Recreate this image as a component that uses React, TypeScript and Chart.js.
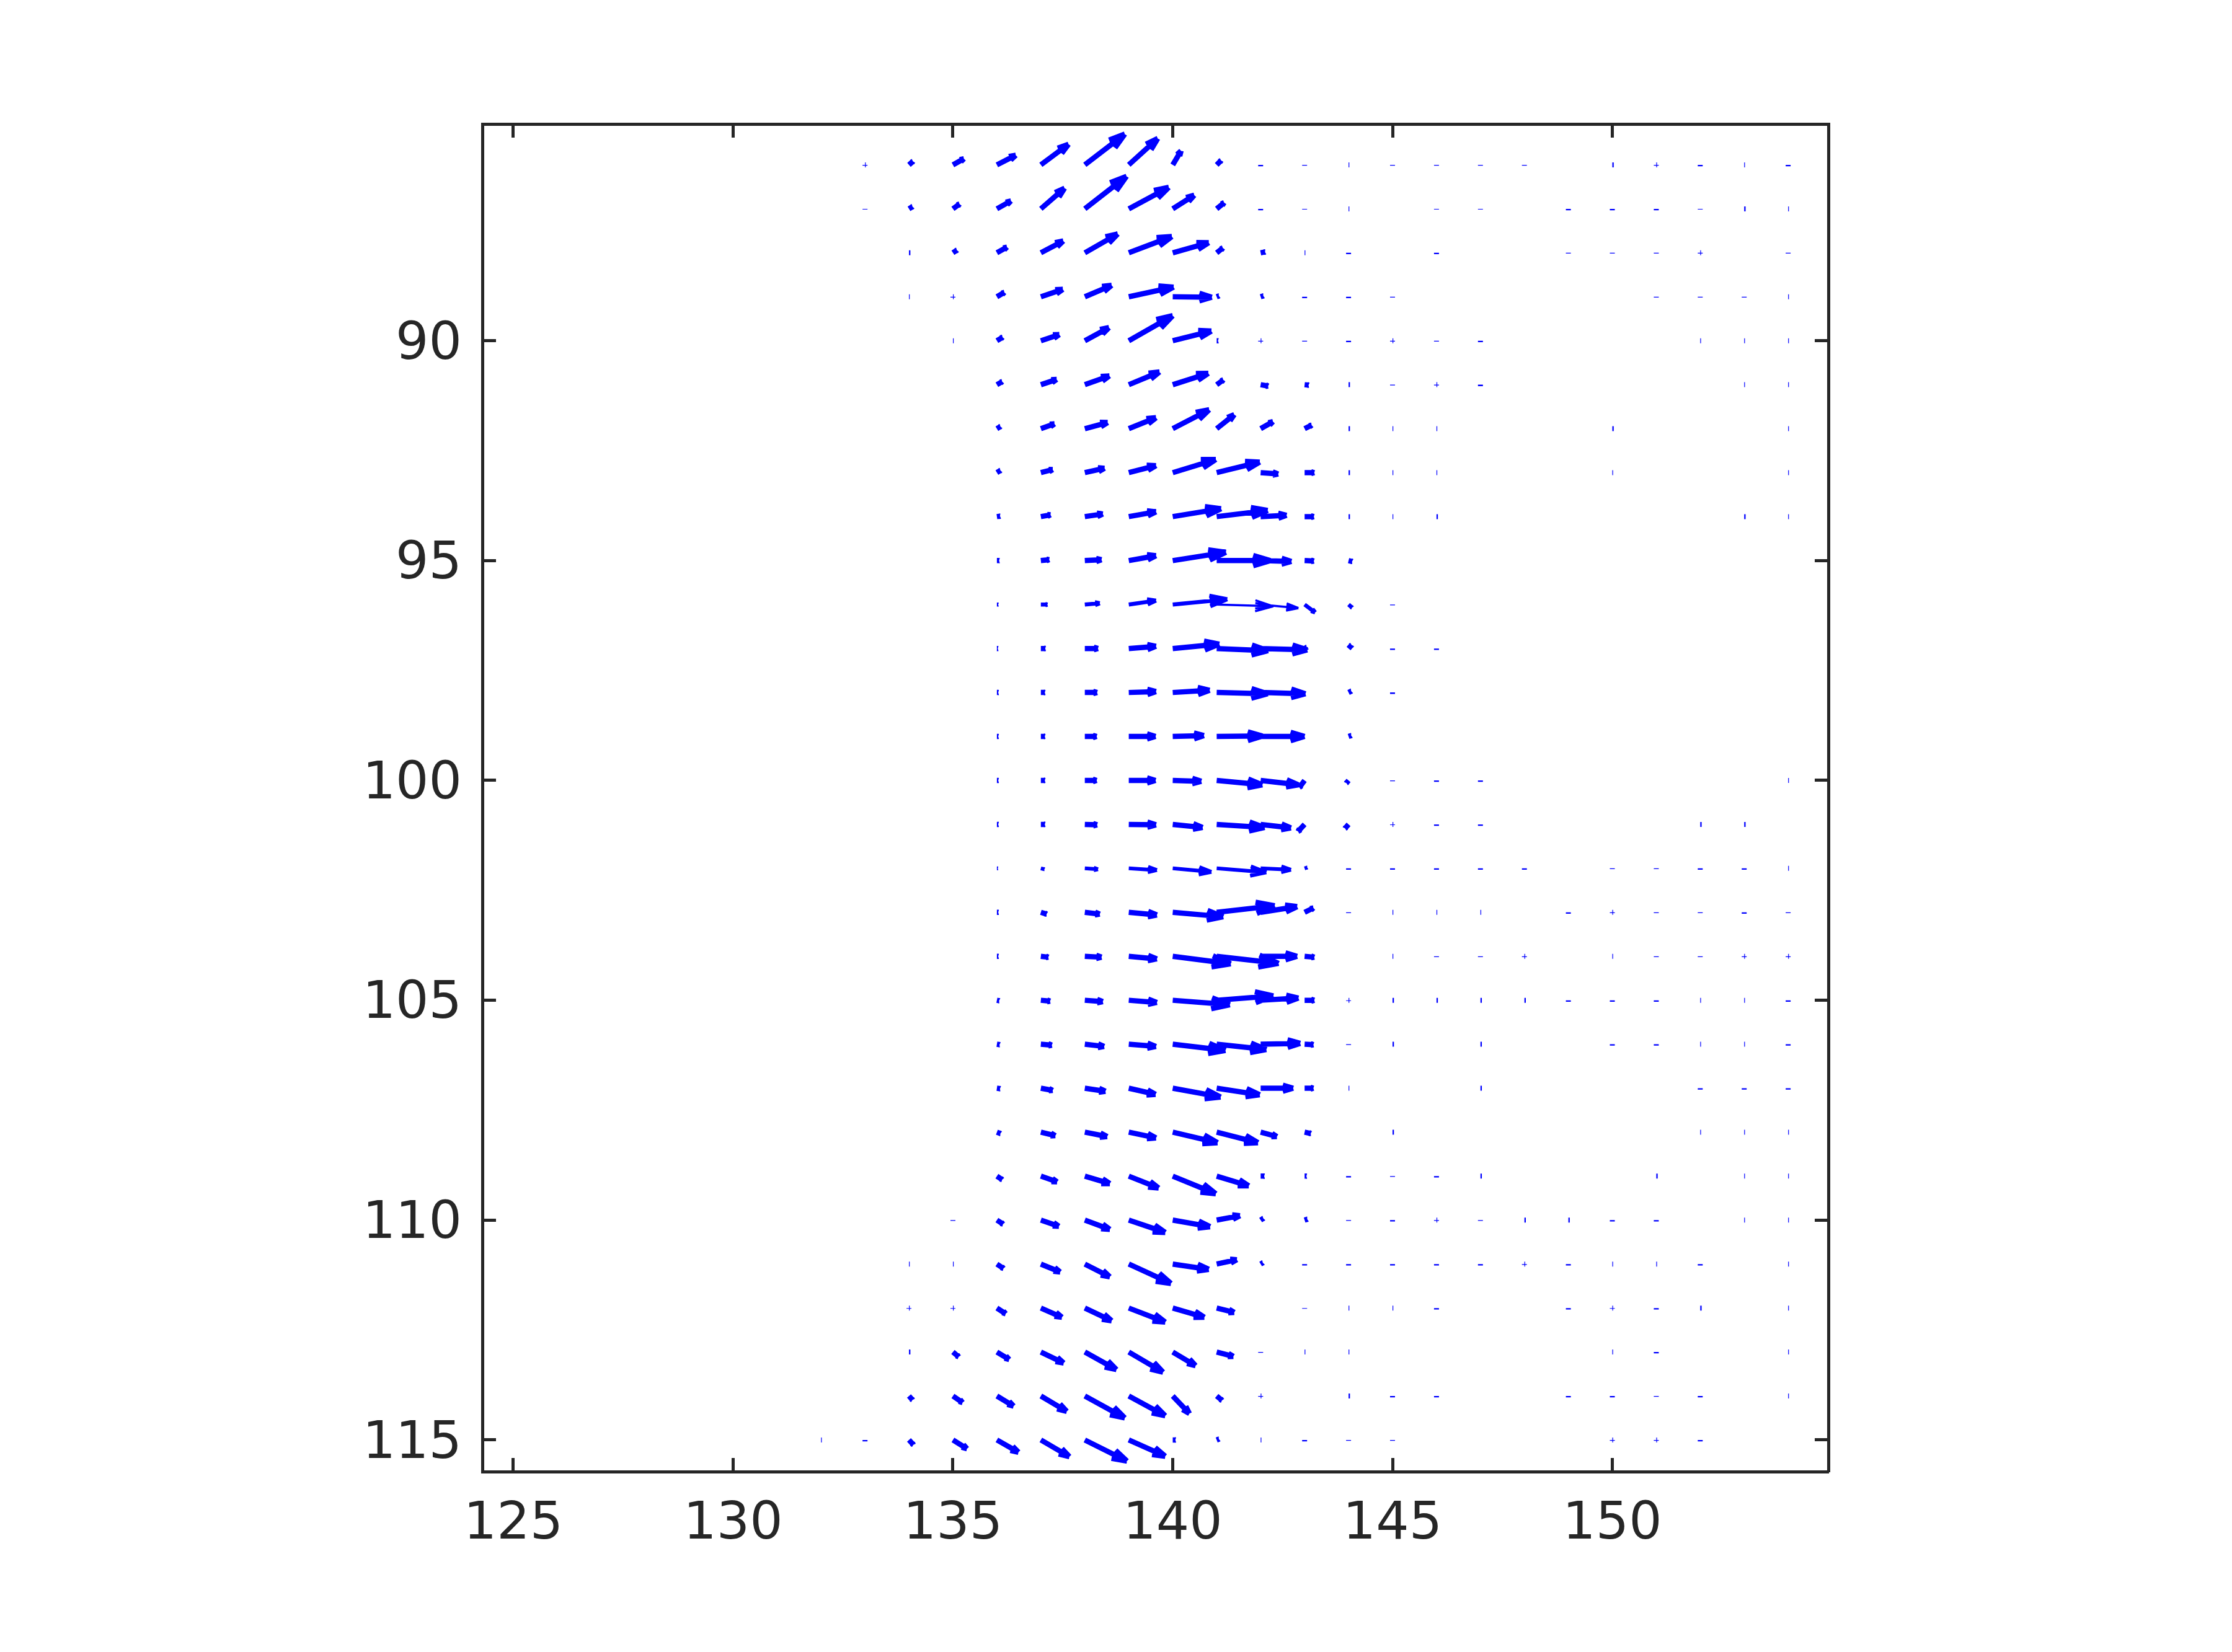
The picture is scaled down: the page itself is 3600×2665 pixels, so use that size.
import React, { useEffect, useRef } from "react";
import { Chart, registerables } from "chart.js";

Chart.register(...registerables);

const N = null;

// Longitudes of the full grid and of the columns that hold real arrows.
const minorLons = [132,133,134,135,136,137,138,139,140,141,142,143,144,145,146,147,148,149,150,151,152,153,154];
const arrowLons = [134,135,136,137,138,139,140,141,142,143,144];
const lats = [86,87,88,89,90,91,92,93,94,95,96,97,98,99,100,101,102,103,104,105,106,107,108,109,110,111,112,113,114,115];
const xTickValues = [125,130,135,140,145,150];
const yTickValues = [90,95,100,105,110,115];

// Eastward component, one row per latitude, columns = arrowLons.
const uRows = [
  [.09,.25,.43,.63,.91,.66,.19,.10,N,N,N],
  [.08,.15,.32,.54,.95,.91,.49,.17,N,N,N],
  [N,.09,.23,.51,.75,.98,.82,.14,.10,N,N],
  [N,N,.17,.50,.61,1.02,.89,.05,.06,N,N],
  [N,N,.13,.42,.55,1.0,.88,.03,N,N,N],
  [N,N,.12,.36,.56,.70,.81,.15,.17,.09,N],
  [N,N,.08,.31,.52,.62,.83,.40,.28,.16,N],
  [N,N,.08,.27,.45,.62,.98,.98,.40,.22,N],
  [N,N,.07,.22,.41,.62,1.10,1.16,.59,.21,N],
  [N,N,.05,.19,.38,.62,1.21,1.22,.70,.21,.08],
  [N,N,.03,.15,.34,.62,1.24,1.29,.86,.24,.08],
  [N,N,.02,.10,.30,.62,1.06,1.17,1.06,.05,.07],
  [N,N,.03,.09,.28,.62,.84,1.16,1.02,N,.06],
  [N,N,.03,.09,.27,.61,.71,1.04,1.00,N,.06],
  [N,N,.03,.09,.27,.61,.65,1.04,.86,-.12,-.05],
  [N,N,.03,.09,.28,.62,.68,1.09,.69,-.15,-.08],
  [N,N,.02,.08,.30,.64,.88,1.13,.69,.06,N],
  [N,N,.03,.13,.34,.64,1.15,1.32,.83,.20,N],
  [N,N,.03,.17,.38,.64,1.32,1.41,.83,.22,N],
  [N,N,.05,.21,.41,.64,1.30,1.29,.86,.22,N],
  [N,N,.06,.25,.44,.62,1.20,1.13,.90,.20,N],
  [N,N,.07,.27,.47,.61,1.09,.98,.74,.20,N],
  [N,N,.08,.33,.51,.62,1.02,.94,.37,.14,N],
  [N,N,.12,.37,.57,.68,.98,.73,.08,.04,N],
  [N,N,.14,.41,.57,.83,.85,.53,.06,.06,N],
  [N,N,.15,.44,.57,.96,.82,.46,.05,N,N],
  [N,N,.20,.48,.61,.83,.72,.40,N,N,N],
  [N,.13,.28,.52,.72,.78,.52,.38,N,N,N],
  [.08,.22,.38,.59,.91,.83,.38,.12,N,N,N],
  [.10,.32,.49,.65,.96,.83,.06,.05,N,N,N],
];

// Downward component (the latitude axis runs downward).
const vRows = [
  [-.08,-.14,-.22,-.47,-.70,-.60,-.32,-.10,N,N,N],
  [-.05,-.11,-.18,-.47,-.74,-.49,-.31,-.14,N,N,N],
  [N,-.06,-.13,-.27,-.43,-.37,-.23,-.11,-.02,N,N],
  [N,N,-.10,-.17,-.26,-.22,.01,-.02,-.02,N,N],
  [N,N,-.08,-.14,-.30,-.57,-.22,0,N,N,N],
  [N,N,-.07,-.12,-.20,-.29,-.26,-.11,.03,.01,N],
  [N,N,-.05,-.11,-.14,-.25,-.43,-.32,-.16,-.08,N],
  [N,N,-.05,-.07,-.10,-.16,-.30,-.24,.03,0,N],
  [N,N,-.01,-.04,-.06,-.11,-.18,-.14,-.03,0,N],
  [N,N,0,-.02,-.02,-.11,-.19,0,.02,.01,.02],
  [N,N,0,0,-.03,-.09,-.12,.04,.08,.18,.07],
  [N,N,0,0,0,-.05,-.10,.05,.03,-.03,-.08],
  [N,N,0,0,0,-.02,-.05,.03,.03,N,-.03],
  [N,N,0,0,0,0,-.02,-.01,0,N,-.02],
  [N,N,0,0,0,0,.02,.10,.10,.16,.06],
  [N,N,0,0,.01,.01,.07,.07,.08,.16,.09],
  [N,N,0,.02,.02,.04,.08,.09,.03,-.02,N],
  [N,N,0,.04,.04,.06,.10,-.15,-.13,-.10,N],
  [N,N,0,.02,.02,.06,.17,.16,0,.02,N],
  [N,N,.01,.02,.03,.05,.10,-.10,-.05,0,N],
  [N,N,.01,.02,.05,.05,.14,.12,-.02,.01,N],
  [N,N,.01,.05,.07,.14,.20,.15,0,0,N],
  [N,N,.03,.08,.10,.13,.24,.24,.10,.03,N],
  [N,N,.08,.13,.17,.27,.40,.22,0,0,N],
  [N,N,.09,.14,.21,.28,.15,-.10,-.04,-.02,N],
  [N,N,.10,.18,.29,.44,.12,-.10,-.03,N,N],
  [N,N,.13,.21,.29,.32,.21,.10,N,N,N],
  [N,.11,.17,.25,.40,.46,.31,.10,N,N,N],
  [.09,.15,.23,.35,.50,.45,.40,.10,N,N,N],
  [.11,.20,.28,.38,.48,.37,0,-.02,N,N,N],
];

// Near-zero vectors, one char per minorLons entry:
// | and I = tiny eastward, - and = = tiny southward, + = both, . = none.
const minorRows = [
  ".+........=-|----.I+=|=",
  ".-........=-|.--.===-I|",
  "..I........|=.=..---+.-",
  "..|+.......==-.....---|",
  "...|......+-=+-=....|||",
  "............I-+=.....||",
  "............I||...I...|",
  "............I||...|...|",
  "............I|I......I|",
  ".......................",
  ".............-.........",
  ".............==........",
  ".............=.........",
  ".......................",
  ".............-==......|",
  ".............+==....II.",
  "............=====.--==|",
  "............-|||.=+--=-",
  ".............|--+.|--++",
  "............+IIII===||=",
  "............-I.I..==||=",
  "............|..I....===",
  ".............I......|||",
  "............=-=I...I.||",
  "...-........-=+-II==.||",
  "..||.......=====+=||=.|",
  "..++.......-||=..=+=I.|",
  "..I.......-||.....|=..|",
  "..........+.I==..==-=.|",
  "|=........|=--....++=..",
];

const BLUE = "#0000ff";
const INK = "#262626";
const FONT_FAMILY = '"DejaVu Sans"';
const HEAD_BACK = 0.32;
const HEAD_SPREAD = 0.3;
const STROKE_DEFAULT = 8.5;
const STROKE_BY_LAT: Record<number, number> = { 96: 6.5, 102: 6 };
const THIN_ARROWS = new Set(["96:141", "96:142"]);
const STROKE_THIN = 3.5;
const STROKE_MINOR = 8;
const MINOR_SMALL = 0.017;
const MINOR_LARGE = 0.032;

type Pt = { x: number; y: number };
const GAP: Pt = { x: NaN, y: NaN };

function pushSegment(out: Pt[], a: Pt, b: Pt) {
  out.push(a, b, GAP);
}

function pushArrow(out: Pt[], x: number, y: number, u: number, v: number) {
  const tip = { x: x + u, y: y + v };
  pushSegment(out, { x, y }, tip);
  for (const spread of [HEAD_SPREAD, HEAD_SPREAD / 2]) {
    for (const side of [1, -1]) {
      pushSegment(out, tip, {
        x: tip.x - HEAD_BACK * (u + side * spread * v),
        y: tip.y - HEAD_BACK * (v - side * spread * u),
      });
    }
  }
}

function buildDatasets() {
  const line = { showLine: true, pointRadius: 0, pointHoverRadius: 0, borderColor: BLUE, backgroundColor: BLUE, borderCapStyle: "butt", spanGaps: false, fill: false, parsing: true };
  const datasets: any[] = [];
  const thin: Pt[] = [];
  lats.forEach((lat, r) => {
    const pts: Pt[] = [];
    arrowLons.forEach((lon, c) => {
      const u = uRows[r][c];
      const v = vRows[r][c];
      if (u === null || v === null) return;
      pushArrow(THIN_ARROWS.has(`${lat}:${lon}`) ? thin : pts, lon, lat, u, v);
    });
    datasets.push({ ...line, label: String(lat), data: pts, borderWidth: STROKE_BY_LAT[lat] ?? STROKE_DEFAULT });
  });
  datasets.push({ ...line, label: "thin", data: thin, borderWidth: STROKE_THIN });
  const minor: Pt[] = [];
  lats.forEach((lat, r) => {
    minorLons.forEach((lon, c) => {
      const ch = minorRows[r][c];
      if (ch === "|" || ch === "+") pushSegment(minor, { x: lon, y: lat }, { x: lon + MINOR_SMALL, y: lat });
      if (ch === "I") pushSegment(minor, { x: lon, y: lat }, { x: lon + MINOR_LARGE, y: lat });
      if (ch === "-" || ch === "+") pushSegment(minor, { x: lon, y: lat }, { x: lon, y: lat + MINOR_SMALL });
      if (ch === "=") pushSegment(minor, { x: lon, y: lat }, { x: lon, y: lat + MINOR_LARGE });
    });
  });
  datasets.push({ ...line, label: "minor", data: minor, borderWidth: STROKE_MINOR });
  return datasets;
}

const X_MIN = 124.295, X_MAX = 154.915, Y_MIN = 85.07, Y_MAX = 115.72;
const PLOT_LEFT = 778, PLOT_RIGHT = 2949, PLOT_TOP = 200, PLOT_BOTTOM = 2374;
const W = 3600, H = 2665;

function axisBase(min: number, max: number, values: number[], showLabels: boolean, padding: number, labelOffset = 0) {
  return {
    type: "linear",
    min,
    max,
    afterBuildTicks: (s: any) => { s.ticks = values.map((value) => ({ value })); },
    border: { display: true, color: INK, width: 5 },
    grid: { drawOnChartArea: false, drawTicks: true, tickLength: -22, tickWidth: 5, tickColor: INK, color: INK },
    ticks: {
      display: showLabels,
      autoSkip: false,
      maxRotation: 0,
      minRotation: 0,
      padding,
      labelOffset,
      color: INK,
      font: { family: FONT_FAMILY, size: 84 },
    },
  };
}

export default function App() {
  const ref = useRef<HTMLCanvasElement | null>(null);
  useEffect(() => {
    if (!ref.current) return;
    const chart = new Chart(ref.current, {
      type: "scatter",
      data: { datasets: buildDatasets() },
      options: {
        animation: false,
        responsive: false,
        devicePixelRatio: 1,
        events: [],
        layout: { padding: 0 },
        plugins: { legend: { display: false }, tooltip: { enabled: false }, title: { display: false } },
        scales: {
          x: { ...axisBase(X_MIN, X_MAX, xTickValues, true, 58), position: "bottom", afterFit: (s: any) => { s.height = H - PLOT_BOTTOM; } },
          y: { ...axisBase(Y_MIN, Y_MAX, yTickValues, true, 55, 7), position: "left", reverse: true, afterFit: (s: any) => { s.width = PLOT_LEFT; } },
          x2: { ...axisBase(X_MIN, X_MAX, xTickValues, false, 0), position: "top", afterFit: (s: any) => { s.height = PLOT_TOP; } },
          y2: { ...axisBase(Y_MIN, Y_MAX, yTickValues, false, 0), position: "right", reverse: true, afterFit: (s: any) => { s.width = W - PLOT_RIGHT; } },
        },
      } as any,
    });
    return () => chart.destroy();
  }, []);
  return (
    <div style={{ position: "absolute", left: 0, top: 0, width: W, height: H, background: "#fff" }}>
      <canvas ref={ref} width={W} height={H} style={{ display: "block" }} />
    </div>
  );
}
